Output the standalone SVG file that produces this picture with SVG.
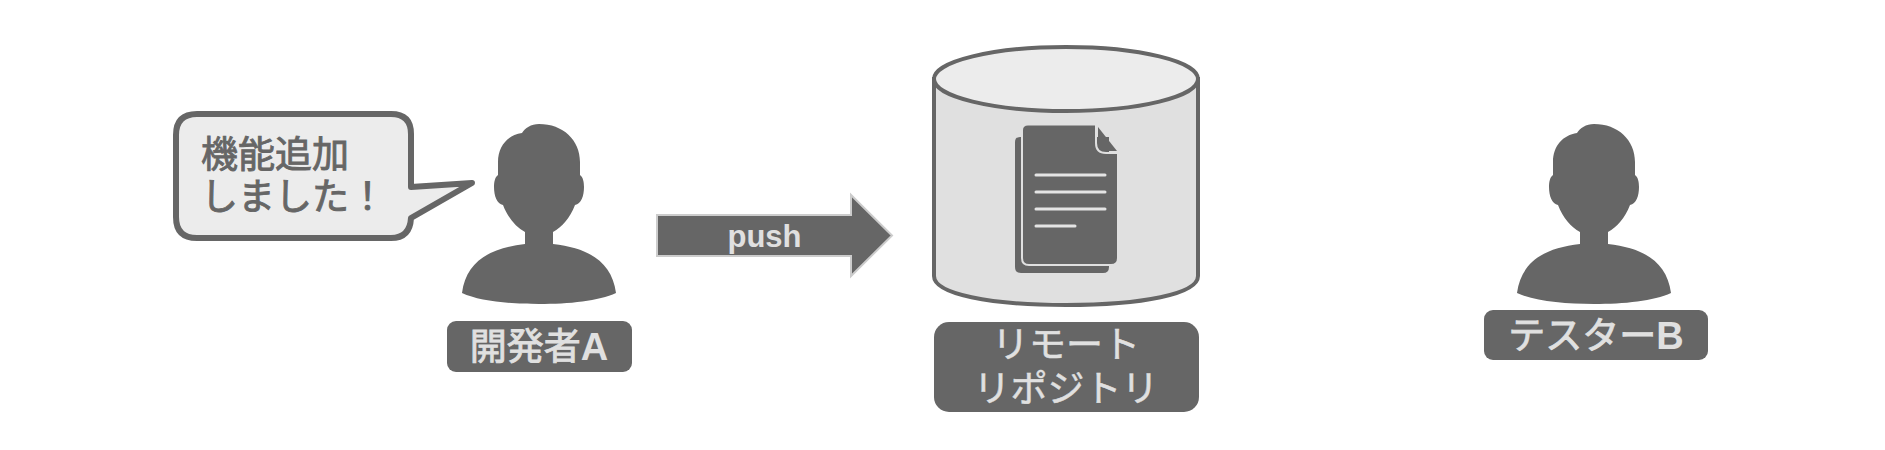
<svg xmlns="http://www.w3.org/2000/svg" width="1885" height="450" viewBox="0 0 1885 450">
<style>
.jp{font-family:"Noto Sans CJK JP","Noto Sans","Liberation Sans",sans-serif;font-size:37px}
.heavy{stroke-width:.9;paint-order:stroke}
.mid{stroke-width:.5;paint-order:stroke;stroke:#e0e0e0}
.lb{fill:#e0e0e0;text-anchor:middle}
.lat{font-family:"Liberation Sans",sans-serif;font-weight:700;font-size:38px}
.box{fill:#666}
.ln{stroke:#e4e4e4;stroke-width:3;stroke-linecap:round;fill:none}
</style>
<defs>
<path id="person" fill="#666" d="M0 124C-8 124-14 128-17 133C-31 135-41 146-41 162L-41 175C-44 177-45 182-45 187C-45 196-42 204-36 205C-31 218-23 227-14 232L-14 244C-50 248-73 262-77 293C-60 301-30 304 0 304C30 304 60 301 77 293C73 262 50 248 14 244L14 232C23 227 31 218 36 205C42 204 45 196 45 187C45 182 44 177 41 175L41 162C41 140 24 124 0 124Z"/>
</defs>
<rect width="1885" height="450" fill="#fff"/>
<g id="connectors">
<path d="M657 215H851V195L892 235.500L851 276V256H657Z" fill="#666" stroke="#ccc" stroke-width="2"/>
<text x="764.500" y="247" text-anchor="middle" font-family="Liberation Sans,sans-serif" font-size="31" font-weight="700" fill="#e0e0e0">push</text>
</g>
<g id="callout">
<path d="M197 114H391Q411 114 411 134V187L472 183L411 218Q410 238 391 238H197Q176 238 176 217V135Q176 114 197 114Z" fill="#ececec" stroke="#666" stroke-width="6" stroke-linejoin="round"/>
<text class="jp heavy" x="201" y="168" fill="#666" stroke="#666">機能追加</text>
<text class="jp heavy" x="201" y="210" fill="#666" stroke="#666">しました！</text>
</g>
<g id="developer-a">
<use href="#person" x="539"/>
<rect class="box" x="447" y="321" width="185" height="51" rx="9"/>
<text class="jp lb" x="539" y="360"><tspan class="heavy" stroke="#e0e0e0">開発者</tspan><tspan class="lat">A</tspan></text>
</g>
<g id="remote-repository">
<path d="M934 79V276C934 294 990 305 1066 305C1142 305 1198 294 1198 276V79Z" fill="#e0e0e0" stroke="#666" stroke-width="4"/>
<ellipse cx="1066" cy="79" rx="132" ry="32" fill="#ececec" stroke="#666" stroke-width="4"/>
<path d="M1020 137H1109V267Q1109 273 1103 273H1021Q1015 273 1015 267V142Q1015 137 1020 137Z" fill="#666"/>
<path d="M1028 124.500H1096V143Q1096 153 1106 153H1118V258Q1118 265 1111 265H1029Q1022 265 1022 258V130Q1022 124.500 1028 124.500Z" fill="#666" stroke="#e0e0e0" stroke-width="2"/>
<path d="M1098 127L1117 151H1106Q1098 151 1098 143Z" fill="#666"/>
<path class="ln" d="M1036 175H1105M1036 192H1105M1036 209H1105M1036 226H1075"/>
<rect class="box" x="934" y="322" width="265" height="90" rx="15"/>
<text class="jp lb mid" x="1066" y="358">リモート</text>
<text class="jp lb mid" x="1066" y="402">リポジトリ</text>
</g>
<g id="tester-b">
<use href="#person" x="1594"/>
<rect class="box" x="1484" y="310" width="224" height="50" rx="9"/>
<text class="jp lb" x="1596" y="349"><tspan class="heavy" stroke="#e0e0e0">テスター</tspan><tspan class="lat">B</tspan></text>
</g>
</svg>
